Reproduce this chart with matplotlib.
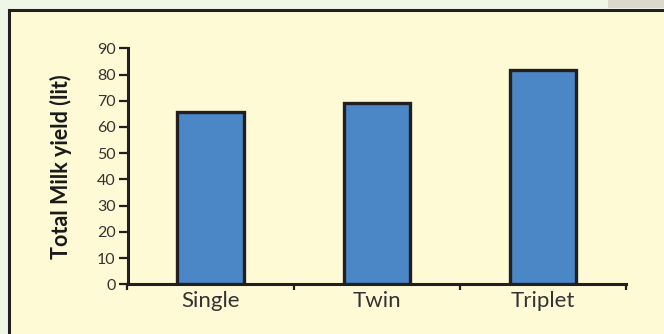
import matplotlib.pyplot as plt
from matplotlib.patches import Rectangle

# milk yield by birth type
births = ["Single", "Twin", "Triplet"]
milk_yield = [65.6, 69.0, 81.7]
y_ticks = [0, 10, 20, 30, 40, 50, 60, 70, 80, 90]

bar_color = "#4b87c6"
dark = "#231f20"
cream = "#fffad6"
fonts = ["Lato", "DejaVu Sans"]

fig = plt.figure(figsize=(6.64, 3.34), dpi=100, facecolor="#eef6e8")

# cream panel with dark border
W, H = 664, 334
panel = Rectangle((8.5 / W, -0.1), 1.2, (H - 9.5) / H + 0.1, transform=fig.transFigure,
                  facecolor=cream, edgecolor=dark, linewidth=2.2, zorder=0)
fig.patches.append(panel)
fig.patches.append(Rectangle((608 / W, (H - 8) / H), 56 / W, 8 / H,
                             transform=fig.transFigure, facecolor="#dcd8cc",
                             edgecolor="none", zorder=0))

ax = fig.add_axes([127.5 / W, 49.7 / H, 498.5 / W, 236 / H])
ax.set_facecolor("none")
ax.set_zorder(2)

x = range(len(births))
ax.bar(x, milk_yield, width=0.4, color=bar_color, edgecolor=dark,
       linewidth=2.4, zorder=3)

ax.set_xlim(-0.5, 2.5)
ax.set_ylim(0, 90)
ax.set_yticks(y_ticks)
ax.set_yticklabels([str(t) for t in y_ticks], fontsize=11.5,
                   family=fonts, color="#333333")

# boundary ticks on x, labels at category centres
ax.set_xticks([-0.5, 0.5, 1.5, 2.5])
ax.set_xticklabels([])
ax.set_xticks(list(x), minor=True)
ax.set_xticklabels(births, minor=True, fontsize=16,
                   family=fonts, color="#333333")
ax.tick_params(axis="x", which="major", direction="out", length=4,
               width=1.6, color=dark)
ax.tick_params(axis="x", which="minor", length=0, pad=5)
ax.tick_params(axis="y", direction="out", length=6.5, width=1.6, color=dark, pad=2)

for side in ["top", "right"]:
    ax.spines[side].set_visible(False)
for side in ["left", "bottom"]:
    ax.spines[side].set_linewidth(2.2)
    ax.spines[side].set_color(dark)

ax.set_ylabel("Total Milk yield (lit)", fontsize=15.5, fontweight="bold",
              family=fonts, color="#1a1a1a")
ax.yaxis.set_label_coords(-0.111, 0.5)

fig.savefig("out.png", dpi=100, facecolor=fig.get_facecolor())
